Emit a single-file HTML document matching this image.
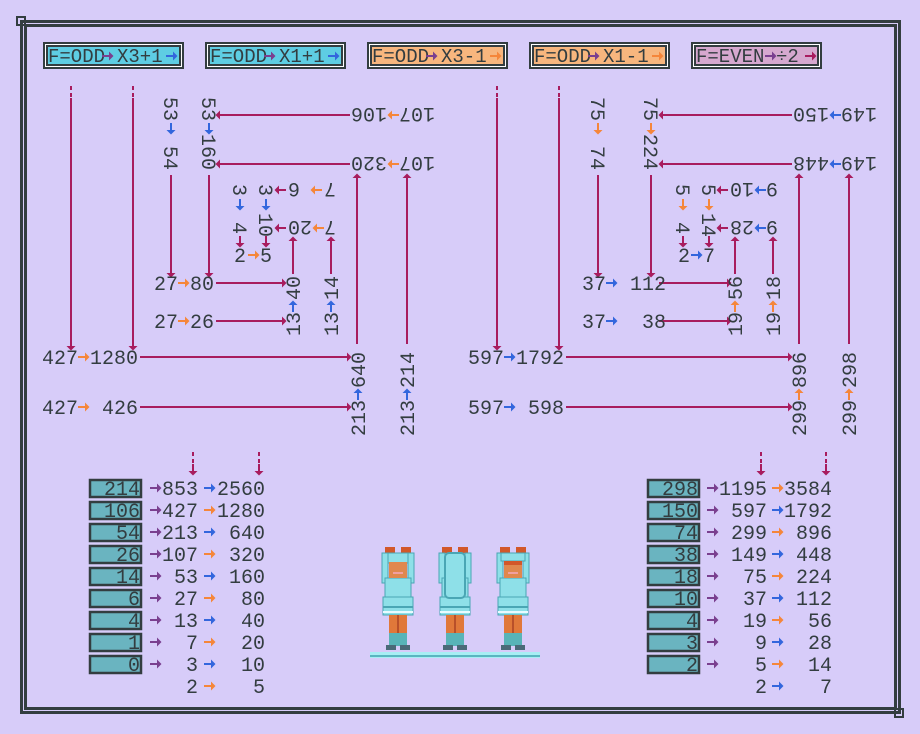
<!DOCTYPE html>
<html><head><meta charset="utf-8"><style>
html,body{margin:0;padding:0;background:#d7ccf9;}
svg{display:block}
text{font-family:"Liberation Mono","DejaVu Sans Mono",monospace;}
</style></head><body>
<svg width="920" height="734" viewBox="0 0 920 734" xmlns="http://www.w3.org/2000/svg">
<defs>
<path id="a" d="M-6,-1H1V-4.5L5.5,0L1,4.5V1H-6Z"/>
</defs>
<rect width="920" height="734" fill="#d7ccf9"/>
<!-- frame -->
<g fill="#333d40">
<rect x="20" y="20" width="881" height="3"/><rect x="24" y="24" width="873" height="3"/>
<rect x="20" y="20" width="3" height="694"/><rect x="24" y="24" width="3" height="686"/>
<rect x="898" y="20" width="3" height="694"/><rect x="894" y="24" width="3" height="686"/>
<rect x="20" y="711" width="881" height="3"/><rect x="24" y="707" width="873" height="3"/>
</g>
<rect x="17" y="17" width="8" height="8" fill="none" stroke="#333d40" stroke-width="2"/>
<rect x="895" y="709" width="8" height="8" fill="none" stroke="#333d40" stroke-width="2"/>

<!-- headers -->
<g stroke="#333d40" stroke-width="2">
<rect x="44" y="43" width="139" height="25" fill="#fff"/><rect x="47" y="46" width="133" height="19" fill="#5ecde3"/>
<rect x="206" y="43" width="139" height="25" fill="#fff"/><rect x="209" y="46" width="133" height="19" fill="#5ecde3"/>
<rect x="368" y="43" width="139" height="25" fill="#fff"/><rect x="371" y="46" width="133" height="19" fill="#f7b67e"/>
<rect x="530" y="43" width="139" height="25" fill="#fff"/><rect x="533" y="46" width="133" height="19" fill="#f7b67e"/>
<rect x="692" y="43" width="129" height="25" fill="#fff"/><rect x="695" y="46" width="123" height="19" fill="#d6a8cf"/>
</g>
<g font-size="19" fill="#333d40">
<text x="48" y="62">F=ODD</text><text x="117" y="62">X3+1</text>
<text x="210" y="62">F=ODD</text><text x="279" y="62">X1+1</text>
<text x="372" y="62">F=ODD</text><text x="441" y="62">X3-1</text>
<text x="534" y="62">F=ODD</text><text x="603" y="62">X1-1</text>
<text x="696" y="62">F=EVEN</text><text x="776" y="62">÷2</text>
</g>
<g fill="#7a3f8f">
<use href="#a" x="108" y="56"/><use href="#a" x="270" y="56"/><use href="#a" x="432" y="56"/><use href="#a" x="594" y="56"/><use href="#a" x="771" y="56"/>
</g>
<use href="#a" x="172" y="56" fill="#3366dd"/><use href="#a" x="334" y="56" fill="#3366dd"/>
<use href="#a" x="496" y="56" fill="#f5863a"/><use href="#a" x="658" y="56" fill="#f5863a"/>
<use href="#a" x="811" y="56" fill="#a81c5e"/>

<!-- connector lines -->
<g stroke="#a81c5e" stroke-width="2" fill="none">
<path d="M71,86V90M71,93V97M71,98V344M133,86V90M133,93V97M133,98V344M140,357H344M140,407H344M357,180V344M407,180V344M222,115H350M222,164H350M171,175V272M209,175V272M216,283H280M216,321H280M293,243V274M331,243V274"/>
<path d="M497,86V90M497,93V97M497,98V344M559,86V90M559,93V97M559,98V344M566,357H786M566,407H786M799,180V344M849,180V344M664,115H792M664,164H792M598,175V272M651,175V272M659,283H725M659,321H725M735,243V274M773,243V274"/>
</g>
<g fill="#a81c5e">
<use href="#a" transform="translate(71,345) rotate(90)"/><use href="#a" transform="translate(133,345) rotate(90)"/>
<use href="#a" transform="translate(346,357)"/><use href="#a" transform="translate(346,407)"/>
<use href="#a" transform="translate(357,179) rotate(-90)"/><use href="#a" transform="translate(407,179) rotate(-90)"/>
<use href="#a" transform="translate(221,115) rotate(180)"/><use href="#a" transform="translate(221,164) rotate(180)"/>
<use href="#a" transform="translate(171,272) rotate(90)"/><use href="#a" transform="translate(209,272) rotate(90)"/>
<use href="#a" transform="translate(281,283)"/><use href="#a" transform="translate(281,321)"/>
<use href="#a" transform="translate(293,242) rotate(-90)"/><use href="#a" transform="translate(331,242) rotate(-90)"/>
<use href="#a" transform="translate(280,190) rotate(180)"/><use href="#a" transform="translate(280,228) rotate(180)"/>
<use href="#a" transform="translate(240,242) rotate(90)"/><use href="#a" transform="translate(266,242) rotate(90)"/>

<use href="#a" transform="translate(497,345) rotate(90)"/><use href="#a" transform="translate(559,345) rotate(90)"/>
<use href="#a" transform="translate(787,357)"/><use href="#a" transform="translate(787,407)"/>
<use href="#a" transform="translate(799,179) rotate(-90)"/><use href="#a" transform="translate(849,179) rotate(-90)"/>
<use href="#a" transform="translate(664,115) rotate(180)"/><use href="#a" transform="translate(664,164) rotate(180)"/>
<use href="#a" transform="translate(598,272) rotate(90)"/><use href="#a" transform="translate(651,272) rotate(90)"/>
<use href="#a" transform="translate(726,283)"/><use href="#a" transform="translate(726,321)"/>
<use href="#a" transform="translate(735,242) rotate(-90)"/><use href="#a" transform="translate(773,242) rotate(-90)"/>
<use href="#a" transform="translate(722,190) rotate(180)"/><use href="#a" transform="translate(722,228) rotate(180)"/>
<use href="#a" transform="translate(683,242) rotate(90)"/><use href="#a" transform="translate(709,242) rotate(90)"/>
</g>

<!-- left tree text -->
<g font-size="20" fill="#333d40">
<text x="42" y="364" xml:space="preserve">427 1280</text>
<text x="42" y="414" xml:space="preserve">427  426</text>
<text transform="translate(358,436) rotate(-90)" y="7" xml:space="preserve">213 640</text>
<text transform="translate(407,436) rotate(-90)" y="7" xml:space="preserve">213 214</text>
<text transform="translate(435,164) rotate(180)" y="7" xml:space="preserve">107 320</text>
<text transform="translate(435,115) rotate(180)" y="7" xml:space="preserve">107 106</text>
<text transform="translate(209,97) rotate(90)" y="7">53</text>
<text transform="translate(209,134) rotate(90)" y="7">160</text>
<text transform="translate(171,97) rotate(90)" y="7">53</text>
<text transform="translate(171,146) rotate(90)" y="7">54</text>
<text x="154" y="290" xml:space="preserve">27 80</text>
<text x="154" y="328" xml:space="preserve">27 26</text>
<text transform="translate(293,336) rotate(-90)" y="7" xml:space="preserve">13 40</text>
<text transform="translate(331,336) rotate(-90)" y="7" xml:space="preserve">13 14</text>
<text transform="translate(336,228) rotate(180)" y="7" xml:space="preserve">7 20</text>
<text transform="translate(336,190) rotate(180)" y="7" xml:space="preserve">7  6</text>
<text transform="translate(240,190) rotate(90)" y="7" text-anchor="middle">3</text>
<text transform="translate(266,190) rotate(90)" y="7" text-anchor="middle">3</text>
<text transform="translate(240,228) rotate(90)" y="7" text-anchor="middle">4</text>
<text transform="translate(266,213) rotate(90)" y="7">10</text>
<text x="234" y="262">2</text><text x="260" y="262">5</text>

<!-- right tree text -->
<text x="468" y="364" xml:space="preserve">597 1792</text>
<text x="468" y="414" xml:space="preserve">597  598</text>
<text transform="translate(799,436) rotate(-90)" y="7" xml:space="preserve">299 896</text>
<text transform="translate(849,436) rotate(-90)" y="7" xml:space="preserve">299 298</text>
<text transform="translate(877,164) rotate(180)" y="7" xml:space="preserve">149 448</text>
<text transform="translate(877,115) rotate(180)" y="7" xml:space="preserve">149 150</text>
<text transform="translate(651,97) rotate(90)" y="7">75</text>
<text transform="translate(651,134) rotate(90)" y="7">224</text>
<text transform="translate(598,97) rotate(90)" y="7">75</text>
<text transform="translate(598,146) rotate(90)" y="7">74</text>
<text x="582" y="290" xml:space="preserve">37  112</text>
<text x="582" y="328" xml:space="preserve">37   38</text>
<text transform="translate(735,336) rotate(-90)" y="7" xml:space="preserve">19 56</text>
<text transform="translate(773,336) rotate(-90)" y="7" xml:space="preserve">19 18</text>
<text transform="translate(778,228) rotate(180)" y="7" xml:space="preserve">9 28</text>
<text transform="translate(778,190) rotate(180)" y="7" xml:space="preserve">9 10</text>
<text transform="translate(683,190) rotate(90)" y="7" text-anchor="middle">5</text>
<text transform="translate(709,190) rotate(90)" y="7" text-anchor="middle">5</text>
<text transform="translate(683,228) rotate(90)" y="7" text-anchor="middle">4</text>
<text transform="translate(709,213) rotate(90)" y="7">14</text>
<text x="678" y="262">2</text><text x="703" y="262">7</text>
</g>

<!-- small colored arrows in trees -->
<g fill="#f5863a">
<use href="#a" x="84" y="357"/><use href="#a" x="84" y="407"/>
<use href="#a" transform="translate(393,164) rotate(180)"/><use href="#a" transform="translate(393,115) rotate(180)"/>
<use href="#a" x="184" y="283"/><use href="#a" x="184" y="321"/>
<use href="#a" transform="translate(318,228) rotate(180)"/><use href="#a" transform="translate(316,190) rotate(180)"/>
<use href="#a" x="254" y="255"/>
<use href="#a" transform="translate(799,394) rotate(-90)"/><use href="#a" transform="translate(849,394) rotate(-90)"/>
<use href="#a" transform="translate(651,129) rotate(90)"/><use href="#a" transform="translate(598,129) rotate(90)"/>
<use href="#a" transform="translate(735,306) rotate(-90)"/><use href="#a" transform="translate(773,306) rotate(-90)"/>
<use href="#a" transform="translate(683,205) rotate(90)"/><use href="#a" transform="translate(709,205) rotate(90)"/>
</g>
<g fill="#3366dd">
<use href="#a" transform="translate(358,394) rotate(-90)"/><use href="#a" transform="translate(407,394) rotate(-90)"/>
<use href="#a" transform="translate(209,129) rotate(90)"/><use href="#a" transform="translate(171,129) rotate(90)"/>
<use href="#a" transform="translate(293,306) rotate(-90)"/><use href="#a" transform="translate(331,306) rotate(-90)"/>
<use href="#a" transform="translate(240,205) rotate(90)"/><use href="#a" transform="translate(266,205) rotate(90)"/>
<use href="#a" x="510" y="357"/><use href="#a" x="510" y="407"/>
<use href="#a" transform="translate(835,164) rotate(180)"/><use href="#a" transform="translate(835,115) rotate(180)"/>
<use href="#a" x="612" y="283"/><use href="#a" x="612" y="321"/>
<use href="#a" transform="translate(760,228) rotate(180)"/><use href="#a" transform="translate(760,190) rotate(180)"/>
<use href="#a" x="697" y="255"/>
</g>

<!-- tables -->
<g stroke="#a81c5e" stroke-width="2">
<path d="M193,452V456M193,459V463M193,466V470M259,452V456M259,459V463M259,466V470M761,452V456M761,459V463M761,466V470M826,452V456M826,459V463M826,466V470"/>
</g>
<g fill="#a81c5e">
<use href="#a" transform="translate(193,470) rotate(90)"/><use href="#a" transform="translate(259,470) rotate(90)"/>
<use href="#a" transform="translate(761,470) rotate(90)"/><use href="#a" transform="translate(826,470) rotate(90)"/>
</g>
<g fill="#6ab4c0" stroke="#333d40" stroke-width="2.5">
<rect x="90" y="480" width="51" height="17"/><rect x="90" y="502" width="51" height="17"/><rect x="90" y="524" width="51" height="17"/>
<rect x="90" y="546" width="51" height="17"/><rect x="90" y="568" width="51" height="17"/><rect x="90" y="590" width="51" height="17"/>
<rect x="90" y="612" width="51" height="17"/><rect x="90" y="634" width="51" height="17"/><rect x="90" y="656" width="51" height="17"/>
<rect x="648" y="480" width="51" height="17"/><rect x="648" y="502" width="51" height="17"/><rect x="648" y="524" width="51" height="17"/>
<rect x="648" y="546" width="51" height="17"/><rect x="648" y="568" width="51" height="17"/><rect x="648" y="590" width="51" height="17"/>
<rect x="648" y="612" width="51" height="17"/><rect x="648" y="634" width="51" height="17"/><rect x="648" y="656" width="51" height="17"/>
</g>
<g font-size="20" fill="#333d40" text-anchor="end">
<text x="140" y="495">214</text><text x="140" y="517">106</text><text x="140" y="539">54</text><text x="140" y="561">26</text><text x="140" y="583">14</text><text x="140" y="605">6</text><text x="140" y="627">4</text><text x="140" y="649">1</text><text x="140" y="671">0</text>
<text x="198" y="495">853</text><text x="198" y="517">427</text><text x="198" y="539">213</text><text x="198" y="561">107</text><text x="198" y="583">53</text><text x="198" y="605">27</text><text x="198" y="627">13</text><text x="198" y="649">7</text><text x="198" y="671">3</text><text x="198" y="693">2</text>
<text x="265" y="495">2560</text><text x="265" y="517">1280</text><text x="265" y="539">640</text><text x="265" y="561">320</text><text x="265" y="583">160</text><text x="265" y="605">80</text><text x="265" y="627">40</text><text x="265" y="649">20</text><text x="265" y="671">10</text><text x="265" y="693">5</text>
<text x="698" y="495">298</text><text x="698" y="517">150</text><text x="698" y="539">74</text><text x="698" y="561">38</text><text x="698" y="583">18</text><text x="698" y="605">10</text><text x="698" y="627">4</text><text x="698" y="649">3</text><text x="698" y="671">2</text>
<text x="767" y="495">1195</text><text x="767" y="517">597</text><text x="767" y="539">299</text><text x="767" y="561">149</text><text x="767" y="583">75</text><text x="767" y="605">37</text><text x="767" y="627">19</text><text x="767" y="649">9</text><text x="767" y="671">5</text><text x="767" y="693">2</text>
<text x="832" y="495">3584</text><text x="832" y="517">1792</text><text x="832" y="539">896</text><text x="832" y="561">448</text><text x="832" y="583">224</text><text x="832" y="605">112</text><text x="832" y="627">56</text><text x="832" y="649">28</text><text x="832" y="671">14</text><text x="832" y="693">7</text>
</g>
<g fill="#7a3f8f">
<use href="#a" x="156" y="488"/><use href="#a" x="156" y="510"/><use href="#a" x="156" y="532"/><use href="#a" x="156" y="554"/><use href="#a" x="156" y="576"/><use href="#a" x="156" y="598"/><use href="#a" x="156" y="620"/><use href="#a" x="156" y="642"/><use href="#a" x="156" y="664"/>
<use href="#a" x="713" y="488"/><use href="#a" x="713" y="510"/><use href="#a" x="713" y="532"/><use href="#a" x="713" y="554"/><use href="#a" x="713" y="576"/><use href="#a" x="713" y="598"/><use href="#a" x="713" y="620"/><use href="#a" x="713" y="642"/><use href="#a" x="713" y="664"/>
</g>
<g fill="#3366dd">
<use href="#a" x="210" y="488"/><use href="#a" x="210" y="532"/><use href="#a" x="210" y="576"/><use href="#a" x="210" y="620"/><use href="#a" x="210" y="664"/>
<use href="#a" x="778" y="510"/><use href="#a" x="778" y="554"/><use href="#a" x="778" y="598"/><use href="#a" x="778" y="642"/><use href="#a" x="778" y="686"/>
</g>
<g fill="#f5863a">
<use href="#a" x="210" y="510"/><use href="#a" x="210" y="554"/><use href="#a" x="210" y="598"/><use href="#a" x="210" y="642"/><use href="#a" x="210" y="686"/>
<use href="#a" x="778" y="488"/><use href="#a" x="778" y="532"/><use href="#a" x="778" y="576"/><use href="#a" x="778" y="620"/><use href="#a" x="778" y="664"/>
</g>

<!-- figures -->
<defs>
<g id="fig">
<rect x="-13" y="547" width="10" height="6" fill="#d2582a"/><rect x="3" y="547" width="10" height="6" fill="#d2582a"/>
<rect x="-16" y="553" width="6" height="30" fill="#8ee0e8" stroke="#4aa6b4"/><rect x="10" y="553" width="6" height="30" fill="#8ee0e8" stroke="#4aa6b4"/>
<rect x="-13" y="578" width="26" height="20" fill="#8ee0e8" stroke="#4aa6b4"/>
<rect x="-15" y="597" width="30" height="18" fill="#8ee0e8" stroke="#4aa6b4"/>
<rect x="-15" y="606" width="30" height="2" fill="#4aa6b4"/><rect x="-15" y="611" width="30" height="2" fill="#e8fbff"/>
<rect x="-9" y="615" width="18" height="20" fill="#e0783a"/>
<rect x="-1" y="615" width="2" height="20" fill="#b8502a"/>
<rect x="-9" y="633" width="18" height="13" fill="#58b4b8"/>
<rect x="-12" y="645" width="10" height="5" fill="#4a6a78"/><rect x="2" y="645" width="10" height="5" fill="#4a6a78"/>
</g>
</defs>
<g transform="translate(398,0)"><use href="#fig"/>
<rect x="-10" y="553" width="20" height="10" fill="#8ee0e8" stroke="#4aa6b4"/>
<rect x="-9" y="562" width="18" height="16" fill="#e0884e"/><rect x="-5" y="572" width="10" height="2" fill="#f0a0a0"/>
</g>
<g transform="translate(455,0)"><use href="#fig"/>
<rect x="-10" y="553" width="20" height="45" rx="4" fill="#8ee0e8" stroke="#4aa6b4" stroke-width="2"/>
</g>
<g transform="translate(513,0)"><use href="#fig"/>
<rect x="-12" y="553" width="24" height="8" fill="#8ee0e8" stroke="#4aa6b4"/>
<rect x="-9" y="561" width="18" height="17" fill="#e0884e"/><rect x="-9" y="561" width="18" height="4" fill="#d2582a"/><rect x="-5" y="572" width="10" height="2" fill="#f0a0a0"/>
</g>
<rect x="370" y="652" width="170" height="6" fill="#a8eef4"/>
<rect x="370" y="655" width="170" height="2" fill="#5ab6c0"/>
</svg>
</body></html>
